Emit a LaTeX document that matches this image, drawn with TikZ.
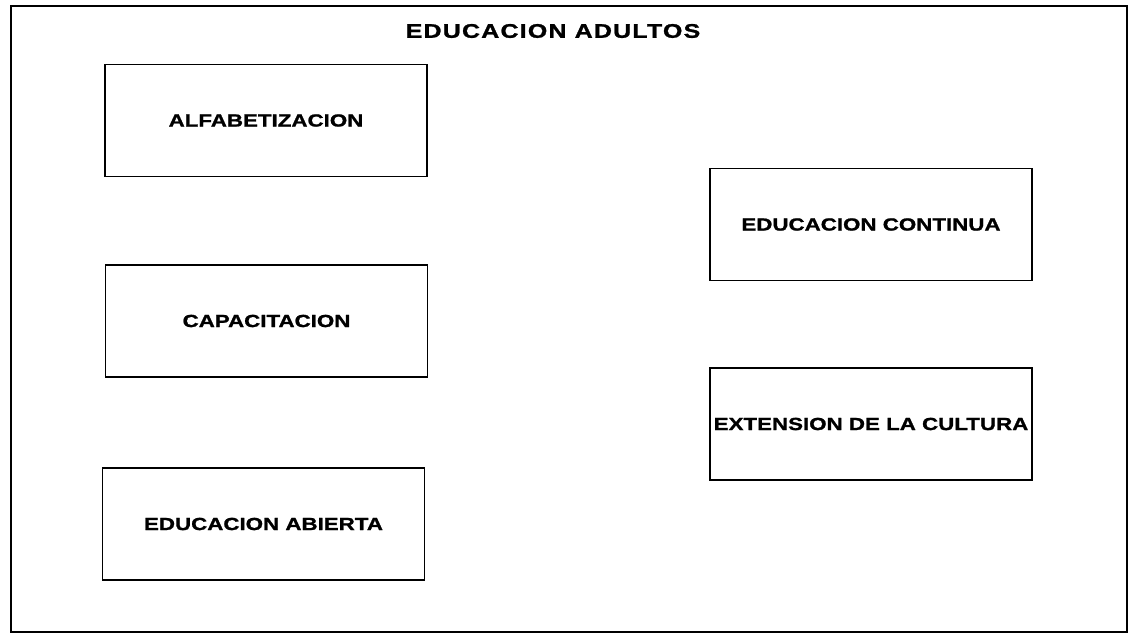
\documentclass[tikz,border=0pt]{standalone}
\usepackage{fontspec}
\setmainfont{Liberation Sans}[FakeStretch=1.27, BoldFeatures={FakeBold=1.2}]
\usepackage{tikz}
\usetikzlibrary{positioning}

\tikzset{
    areabox/.style={draw, line width=0.9pt, minimum width=8.05cm, minimum height=2.8cm,
        inner sep=0pt, font=\fontsize{12.5}{15}\selectfont\bfseries},
    frame/.style={line width=2pt}
}

\begin{document}
\begin{tikzpicture}[x=0.025cm, y=-0.025cm]
        \useasboundingbox (0,0) rectangle (1135,635);
        \draw[frame] (11,6) rectangle (1127,632);

        \node[font=\fontsize{14}{17}\selectfont\bfseries\addfontfeature{LetterSpace=6}] (titulo) at (553,31) {EDUCACION ADULTOS};

        \node[areabox] (alfa) at (266,120.5) {ALFABETIZACION};
        \node[areabox] (capa) at (266.5,321) {CAPACITACION};
        \node[areabox] (abierta) at (263.5,524) {EDUCACION ABIERTA};

        \node[areabox] (continua) at (871,224.5) {EDUCACION CONTINUA};
        \node[areabox] (extension) at (871,424) {EXTENSION DE LA CULTURA};
    \end{tikzpicture}
\end{document}
